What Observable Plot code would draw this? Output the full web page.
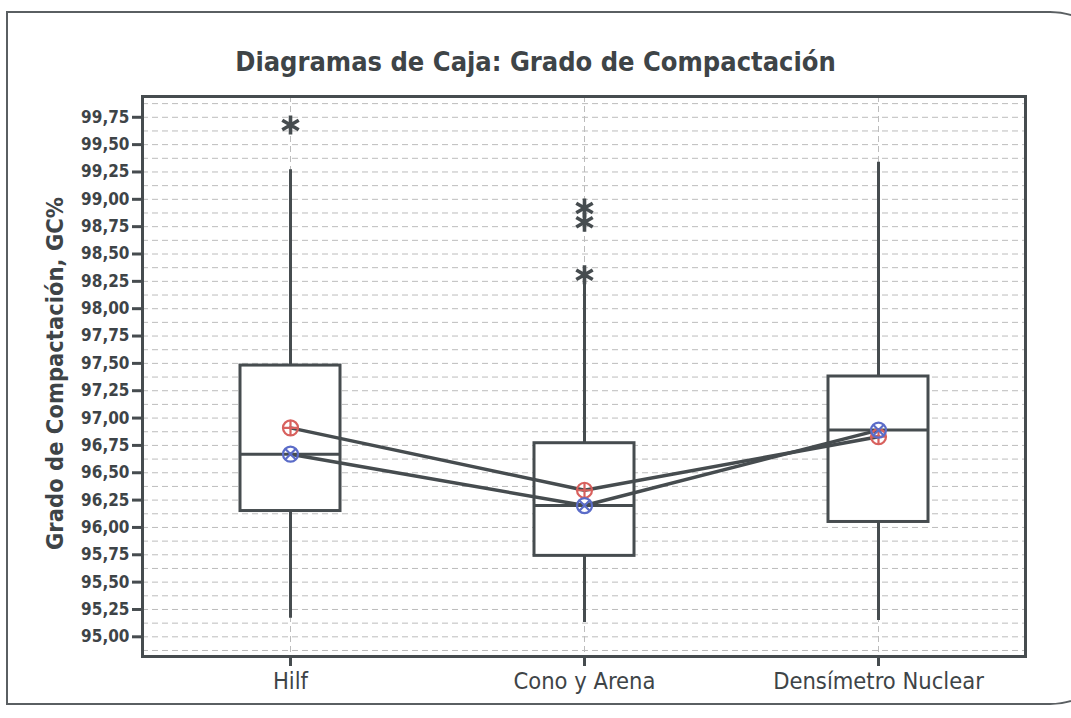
<!DOCTYPE html>
<html><head><meta charset="utf-8">
<script src="https://cdn.jsdelivr.net/npm/d3@7"></script>
<script src="https://cdn.jsdelivr.net/npm/@observablehq/plot@0.6"></script>
<style>
html,body{margin:0;padding:0;background:#fff;width:1071px;height:718px;overflow:hidden;}
body{position:relative;font-family:"DejaVu Sans Condensed","DejaVu Sans",sans-serif;}
#border{position:absolute;left:6px;top:11px;width:1110px;height:690px;border:2px solid #5a5f62;border-top-right-radius:70px;border-bottom-right-radius:70px;}
#title{position:absolute;left:0;width:1071px;top:46px;text-align:center;font-weight:bold;font-size:27px;color:#3e4447;font-family:"DejaVu Sans Condensed","DejaVu Sans",sans-serif;}
#chart{position:absolute;left:0;top:0;}
</style></head><body>
<div id="border"></div>
<div id="chart"></div>
<div id="title">Diagramas de Caja: Grado de Compactación</div>
<script>
const categories = ["Hilf", "Cono y Arena", "Densímetro Nuclear"];
const q1 = [96.15, 95.74, 96.05];
const median = [96.67, 96.20, 96.89];
const q3 = [97.48, 96.77, 97.38];
const whiskerLow = [95.17, 95.13, 95.15];
const whiskerHigh = [99.27, 98.23, 99.34];
const mean = [96.91, 96.34, 96.83];
const outlierCategory = ["Hilf", "Cono y Arena", "Cono y Arena", "Cono y Arena"];
const outlierValue = [99.68, 98.92, 98.79, 98.31];
const yTicks = [95.00, 95.25, 95.50, 95.75, 96.00, 96.25, 96.50, 96.75, 97.00, 97.25, 97.50, 97.75, 98.00, 98.25, 98.50, 98.75, 99.00, 99.25, 99.50, 99.75];
const yLabel = "Grado de Compactación, GC%";

const boxes = categories.map((c, i) => ({
  cat: c, q1: q1[i], med: median[i], q3: q3[i], lo: whiskerLow[i], hi: whiskerHigh[i], mean: mean[i]
}));
const outliers = outlierCategory.map((c, i) => ({cat: c, v: outlierValue[i]}));
const gridLines = d3.range(94.875, 99.94, 0.125);

const ink = "#464c4f";
const textInk = "#3e4447";
const red = "#d8615e";
const blue = "#5b6cc8";
const font = '"DejaVu Sans Condensed","DejaVu Sans",sans-serif';

const chart = Plot.plot({
  width: 1071,
  height: 718,
  marginLeft: 142,
  marginRight: 46,
  marginTop: 96,
  marginBottom: 62,
  style: {background: "transparent", fontFamily: font, color: textInk},
  x: {type: "band", domain: categories, paddingInner: 0.66, paddingOuter: 0.33},
  y: {domain: [94.82, 99.94]},
  marks: [
    Plot.ruleY(gridLines, {stroke: "#bcbcbc", strokeWidth: 1, strokeDasharray: "6,4"}),
    Plot.ruleX(categories, {x: d => d, stroke: "#bcbcbc", strokeWidth: 1, strokeDasharray: "6,4"}),
    Plot.ruleX(boxes, {x: "cat", y1: "lo", y2: "hi", stroke: ink, strokeWidth: 3}),
    Plot.barY(boxes, {x: "cat", y1: "q1", y2: "q3", fill: "white", stroke: ink, strokeWidth: 3}),
    Plot.tickY(boxes, {x: "cat", y: "med", stroke: ink, strokeWidth: 3}),
    Plot.line(boxes, {x: "cat", y: "mean", stroke: ink, strokeWidth: 3.5}),
    Plot.line(boxes, {x: "cat", y: "med", stroke: ink, strokeWidth: 3.5}),
    Plot.dot(boxes, {x: "cat", y: "mean", r: 7.5, stroke: red, strokeWidth: 2.2, fill: "none"}),
    Plot.dot(boxes, {x: "cat", y: "mean", r: 4.9, symbol: "plus", stroke: red, strokeWidth: 2.2}),
    Plot.dot(boxes, {x: "cat", y: "med", r: 7.5, stroke: blue, strokeWidth: 2.2, fill: "none"}),
    Plot.dot(boxes, {x: "cat", y: "med", r: 4.9, symbol: "times", stroke: blue, strokeWidth: 2.2}),
    Plot.dot(outliers, {x: "cat", y: "v", r: 9, symbol: "asterisk", stroke: ink, strokeWidth: 3.6}),
    Plot.frame({stroke: ink, strokeWidth: 3}),
    Plot.axisY(yTicks, {tickSize: 10, tickPadding: 3, strokeWidth: 3, stroke: ink, fill: textInk,
      tickFormat: d => d.toFixed(2).replace(".", ","), fontSize: 17, fontWeight: "bold", label: null}),
    Plot.axisX({tickSize: 10, tickPadding: 6, strokeWidth: 3, stroke: ink, fill: textInk, fontSize: 23.5, label: null}),
    Plot.text([yLabel], {frameAnchor: "left", textAnchor: "middle", rotate: -90, dx: -87, dy: -3, fontSize: 23.5, fontWeight: "bold", fill: textInk})
  ]
});
document.getElementById("chart").appendChild(chart);
</script>
</body></html>
